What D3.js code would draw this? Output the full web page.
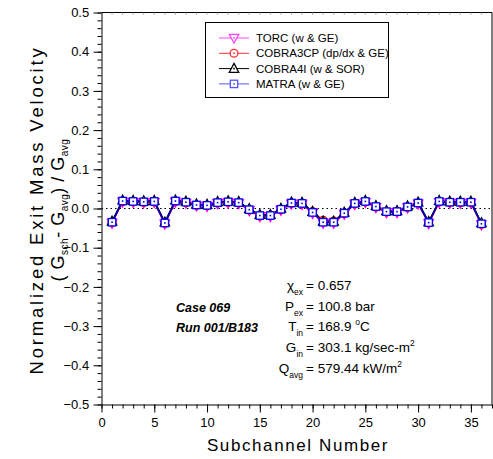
<!DOCTYPE html>
<html><head><meta charset="utf-8">
<script src="https://cdn.jsdelivr.net/npm/d3@7"></script>
<style>body{margin:0;background:#fff}svg{font-family:"Liberation Sans",Arial,sans-serif}</style>
</head><body><svg id="c" width="493" height="459"></svg>
<script>
const channels = d3.range(1, 37);
const matra   = [-0.035,0.019,0.018,0.017,0.018,-0.037,0.019,0.016,0.009,0.008,0.015,0.017,0.015,-0.003,-0.018,-0.018,-0.002,0.014,0.013,-0.010,-0.035,-0.035,-0.012,0.013,0.018,0.005,-0.008,-0.008,0.004,0.014,-0.036,0.018,0.016,0.016,0.016,-0.039];
const torc    = [-0.037,0.017,0.016,0.015,0.016,-0.039,0.017,0.014,0.007,0.006,0.013,0.015,0.013,-0.005,-0.020,-0.020,-0.004,0.012,0.011,-0.012,-0.037,-0.037,-0.014,0.011,0.016,0.003,-0.010,-0.010,0.002,0.012,-0.038,0.016,0.014,0.014,0.014,-0.041];
const cobra3cp= [-0.036,0.018,0.017,0.016,0.017,-0.038,0.018,0.015,0.008,0.007,0.014,0.016,0.014,-0.004,-0.019,-0.017,-0.003,0.013,0.012,-0.008,-0.030,-0.032,-0.013,0.012,0.017,0.004,-0.009,-0.007,0.003,0.013,-0.037,0.017,0.015,0.015,0.015,-0.040];
const cobra4i = [-0.033,0.021,0.020,0.019,0.020,-0.035,0.021,0.018,0.011,0.010,0.017,0.019,0.017,-0.001,-0.016,-0.016,0.000,0.016,0.015,-0.008,-0.033,-0.033,-0.010,0.015,0.020,0.007,-0.006,-0.006,0.006,0.016,-0.034,0.020,0.018,0.018,0.018,-0.037];
const seriesNames = ["TORC (w & GE)","COBRA3CP (dp/dx & GE)","COBRA4I (w & SOR)","MATRA (w & GE)"];
const xTicks = [0,5,10,15,20,25,30,35];
const yTicks = [-0.5,-0.4,-0.3,-0.2,-0.1,0.0,0.1,0.2,0.3,0.4,0.5];

const svg = d3.select("#c");
const x = d3.scaleLinear().domain([0,37]).range([101.5,492]);
const y = d3.scaleLinear().domain([-0.5,0.5]).range([404.5,12.5]);

const series = [
  {name:seriesNames[0], vals:torc, color:"#ff00ff", legendLine:"#ff44ff", sym:"tridown"},
  {name:seriesNames[1], vals:cobra3cp, color:"#ff0000", legendLine:"#ff3030", sym:"circle"},
  {name:seriesNames[2], vals:cobra4i, color:"#000000", legendLine:"#000000", sym:"triup"},
  {name:seriesNames[3], vals:matra, color:"#0000ff", legendLine:"#5555ff", sym:"square"}
];

svg.append("line").attr("x1",x(0)).attr("x2",x(37)).attr("y1",y(0.5)).attr("y2",y(0.5)).attr("stroke","#000");
svg.append("line").attr("x1",x(37)).attr("x2",x(37)).attr("y1",y(0.5)).attr("y2",y(-0.5)).attr("stroke","#000");

const xAxis = d3.axisBottom(x).tickValues(xTicks).tickFormat(d3.format("d")).tickSize(8).tickSizeOuter(0);
const xMinor = d3.axisBottom(x).tickValues(d3.range(0,38)).tickFormat("").tickSize(4).tickSizeOuter(0);
svg.append("g").attr("transform",`translate(0,${y(-0.5)})`).call(xMinor);
const gx2 = svg.append("g").attr("transform",`translate(0,${y(-0.5)})`).call(xAxis);
gx2.select(".domain").remove();
gx2.selectAll("text").attr("font-size",13).attr("font-family","Liberation Sans, Arial").attr("dy","0.9em");

const yAxis = d3.axisLeft(y).tickValues(yTicks).tickFormat(d3.format(".1f")).tickSize(8).tickSizeOuter(0);
const yMinor = d3.axisLeft(y).tickValues(d3.range(-50,51,2).map(v=>v/100)).tickFormat("").tickSize(4).tickSizeOuter(0);
svg.append("g").attr("transform",`translate(${x(0)},0)`).call(yMinor);
const gy2 = svg.append("g").attr("transform",`translate(${x(0)},0)`).call(yAxis);
gy2.select(".domain").remove();
gy2.selectAll("text").attr("font-size",13).attr("font-family","Liberation Sans, Arial").attr("dx","-0.1em");
svg.selectAll(".tick line, .domain").attr("stroke","#000");

svg.append("g").selectAll("line").data(d3.range(1,37)).join("line")
  .attr("x1",d=>x(d)).attr("x2",d=>x(d)).attr("y1",y(0.5)).attr("y2",y(0.5)+2).attr("stroke","#999");

svg.append("line").attr("x1",x(0)).attr("x2",x(37)).attr("y1",y(0)).attr("y2",y(0))
  .attr("stroke","#000").attr("stroke-dasharray","1.5,3").attr("stroke-width",1.2);

function drawSym(g, sym, color, cx, cy){
  const s = 4.2;
  let el;
  if(sym==="square") el = g.append("rect").attr("x",cx-s+0.5).attr("y",cy-s+0.5).attr("width",2*s-1).attr("height",2*s-1);
  else if(sym==="circle") el = g.append("circle").attr("cx",cx).attr("cy",cy).attr("r",s-0.3);
  else if(sym==="triup") el = g.append("path").attr("d",`M${cx},${cy-s-1}L${cx+s+0.5},${cy+s-0.5}L${cx-s-0.5},${cy+s-0.5}Z`);
  else el = g.append("path").attr("d",`M${cx},${cy+s+1}L${cx+s+0.5},${cy-s+0.5}L${cx-s-0.5},${cy-s+0.5}Z`);
  el.attr("fill","#fff").attr("stroke",color).attr("stroke-width",1.3);
  g.append("rect").attr("x",cx-0.8).attr("y",cy-0.8).attr("width",1.6).attr("height",1.6).attr("fill",color);
}

const line = d3.line().x((d,i)=>x(channels[i])).y(d=>y(d));
const lineColors = ["#ff00ff","#ff0000","#000000","#0000aa"];
series.forEach((s,k)=>{
  svg.append("path").datum(s.vals).attr("d",line).attr("fill","none")
    .attr("stroke",lineColors[k]).attr("stroke-width",k===3?1.8:1.4);
});
series.forEach((s,k)=>{
  const g = svg.append("g");
  s.vals.forEach((v,i)=>drawSym(g,s.sym,s.color,x(channels[i]),y(v)));
});

const lg = svg.append("g");
lg.append("rect").attr("x",205.5).attr("y",22.5).attr("width",183).attr("height",75).attr("fill","#fff").attr("stroke","#000");
series.forEach((s,k)=>{
  const yy = 38 + k*15.3;
  lg.append("line").attr("x1",219).attr("x2",249).attr("y1",yy).attr("y2",yy).attr("stroke",s.legendLine).attr("stroke-width",1);
  drawSym(lg,s.sym,s.legendLine,234,yy);
  lg.append("text").attr("x",256).attr("y",yy+4).attr("font-size",11.5).text(s.name);
});

svg.append("text").attr("x",298).attr("y",451).attr("text-anchor","middle").attr("font-size",17)
  .attr("letter-spacing","1.6px").text("Subchannel Number");
const yt = svg.append("g").attr("transform","translate(43,210) rotate(-90)");
yt.append("text").attr("x",0).attr("y",0).attr("text-anchor","middle").attr("font-size",18.5).attr("letter-spacing","2.8px").text("Normalized Exit Mass Velocity");
const t2 = yt.append("text").attr("x",0).attr("y",21).attr("text-anchor","middle").attr("font-size",18).attr("letter-spacing","0.5px");
t2.append("tspan").text("( G");
t2.append("tspan").attr("font-size",10).attr("dy",4).text("sch");
t2.append("tspan").attr("dy",-4).text("- G");
t2.append("tspan").attr("font-size",10).attr("dy",4).text("avg");
t2.append("tspan").attr("dy",-4).text(") / G");
t2.append("tspan").attr("font-size",10).attr("dy",4).text("avg");

svg.append("text").attr("x",176).attr("y",312).attr("font-size",12.5).attr("font-weight","bold").attr("font-style","italic").text("Case 069");
svg.append("text").attr("x",176).attr("y",332).attr("font-size",12.5).attr("font-weight","bold").attr("font-style","italic").text("Run 001/B183");

const ann = [
  {sym:"χ", sub:"ex", val:"= 0.657", y:290, sup:null, after:""},
  {sym:"P", sub:"ex", val:"= 100.8 bar", y:311, sup:null, after:""},
  {sym:"T", sub:"in", val:"= 168.9 ", y:331, sup:"o", after:"C"},
  {sym:"G", sub:"in", val:"= 303.1 kg/sec-m", y:352, sup:"2", after:""},
  {sym:"Q", sub:"avg", val:"= 579.44 kW/m", y:373, sup:"2", after:""}
];
ann.forEach(a=>{
  const t = svg.append("text").attr("x",306).attr("y",a.y).attr("font-size",13.5);
  t.append("tspan").text(a.val);
  if(a.sup){ t.append("tspan").attr("font-size",8.5).attr("dy",-6).text(a.sup); t.append("tspan").attr("dy",6).text(a.after); }
  const lead = svg.append("text").attr("x",303).attr("y",a.y).attr("font-size",13.5).attr("text-anchor","end");
  lead.append("tspan").text(a.sym);
  lead.append("tspan").attr("font-size",8.5).attr("dy",5).text(a.sub);
});
</script></body></html>
